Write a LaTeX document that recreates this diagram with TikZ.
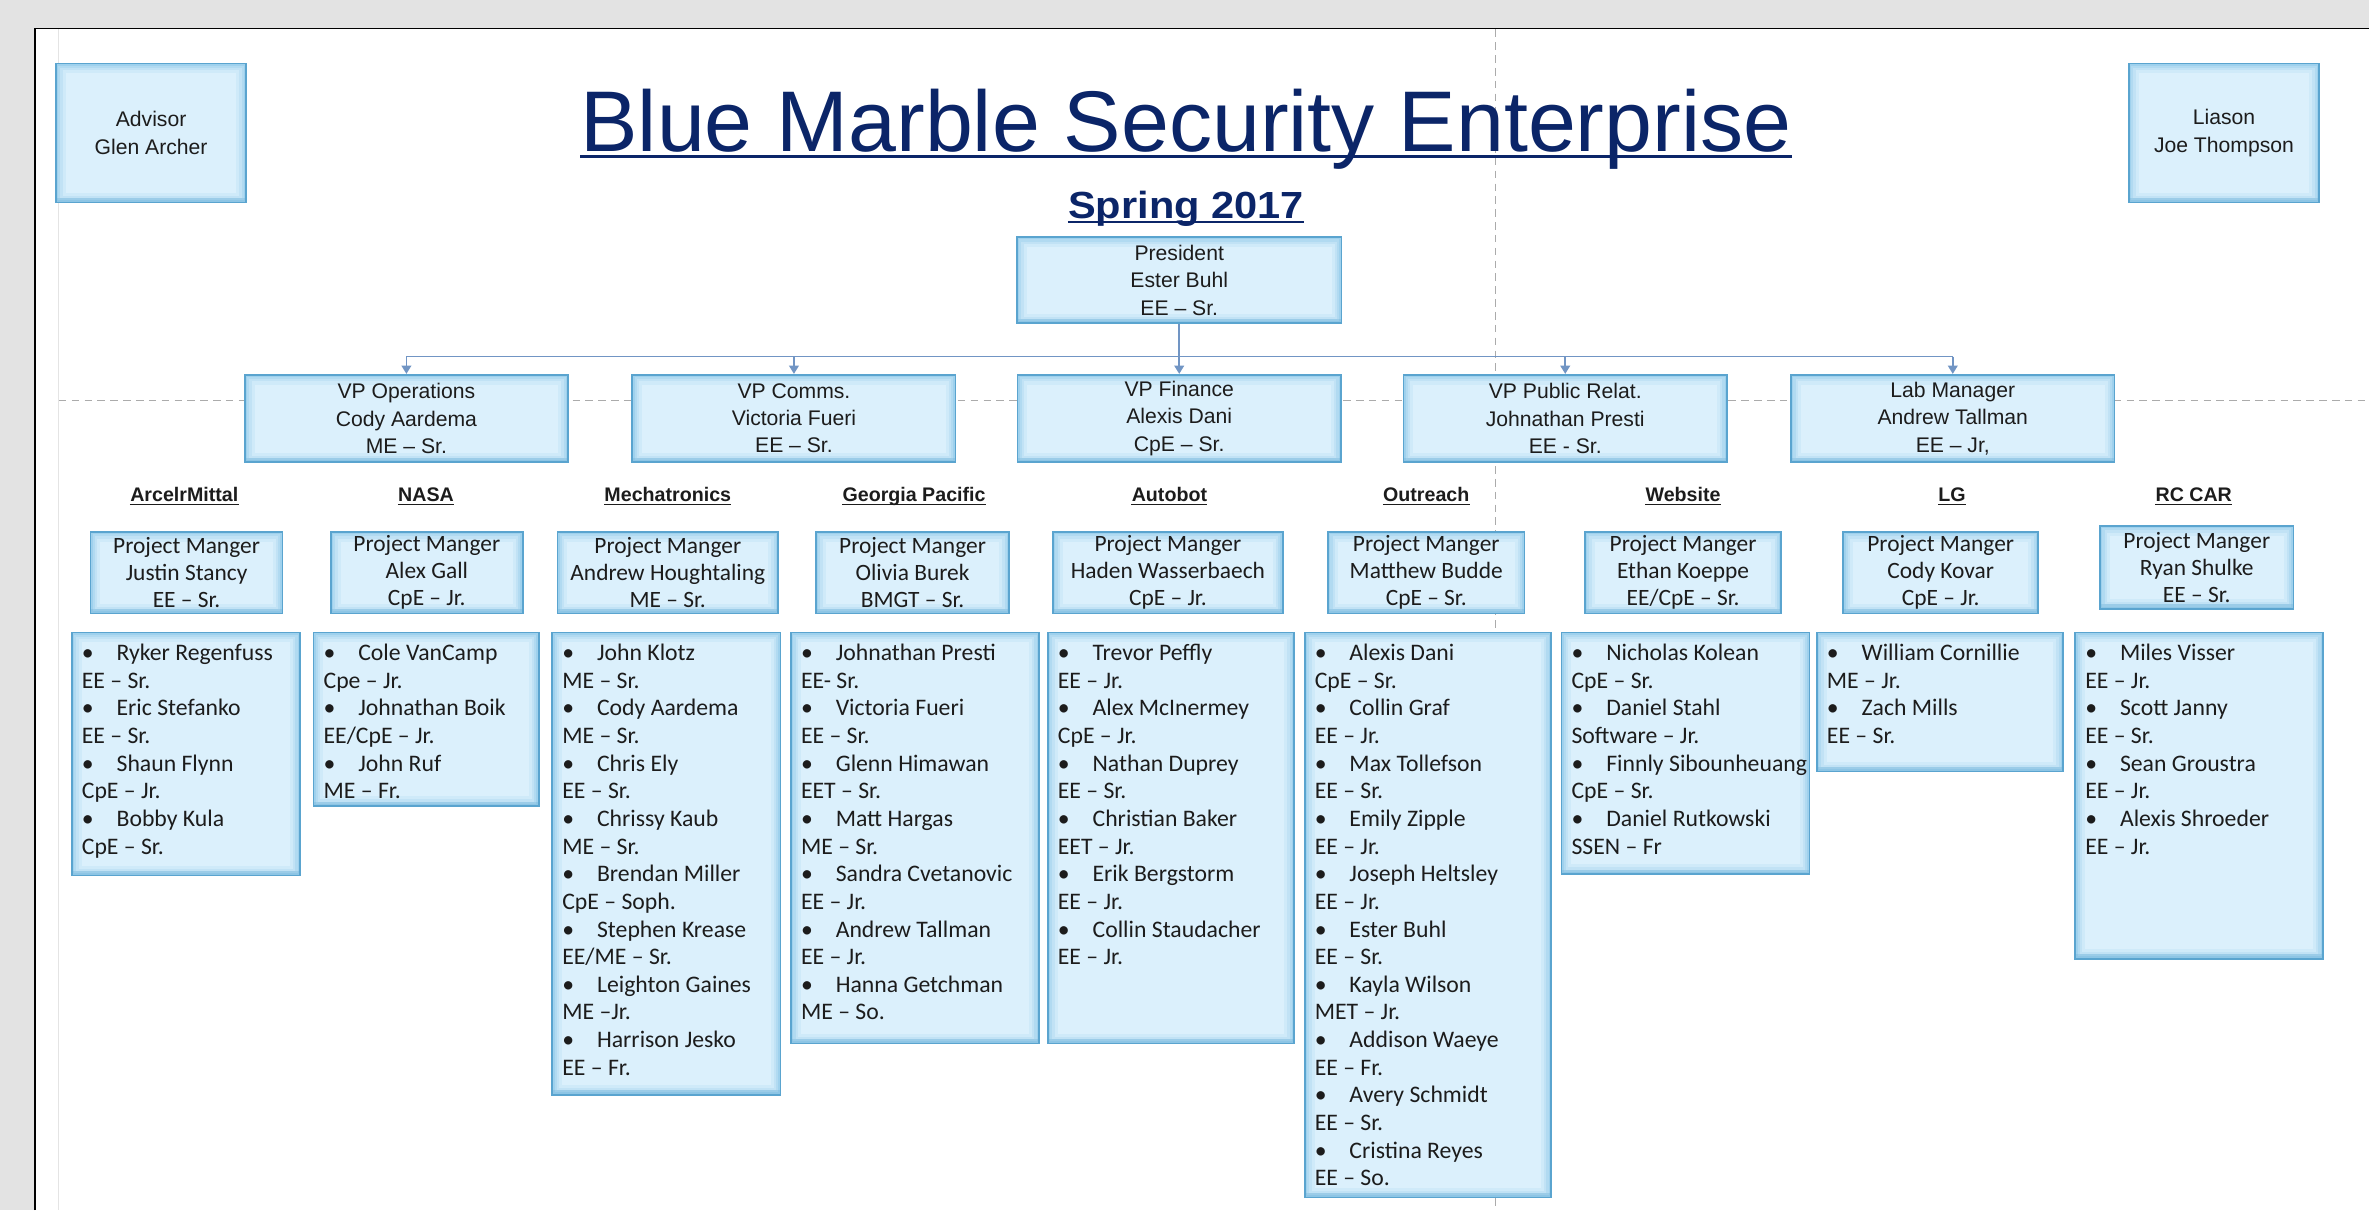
\documentclass[tikz,border=0pt]{standalone}
\usepackage{fontspec}
\setmainfont{Liberation Sans}
\newfontfamily\calfont{Carlito}
\usetikzlibrary{arrows.meta}

\definecolor{pagegrey}{HTML}{E3E3E3}
\definecolor{navy}{HTML}{0B2568}
\definecolor{boxfill}{HTML}{DBF0FC}
\definecolor{boxline}{HTML}{5AA4CF}
\definecolor{boxglow}{HTML}{6DB8E2}
\definecolor{connc}{HTML}{7195C4}
\definecolor{guide}{HTML}{ABABAB}
\definecolor{faintline}{HTML}{E4E4E4}
\definecolor{txt}{HTML}{1C1C1C}

\newcommand\mem[2]{\makebox[23pt][l]{\textbullet}#1\\#2}
\newcommand\strt{\rule{0pt}{12pt}}

\tikzset{
  bx/.style={fill=boxfill, draw=boxline, line width=1.1pt, inner sep=0pt,
    path picture={
      \draw[boxglow, line width=13pt, opacity=0.10]
        (path picture bounding box.south west) rectangle (path picture bounding box.north east);
      \draw[boxglow, line width=9pt, opacity=0.14]
        (path picture bounding box.south west) rectangle (path picture bounding box.north east);
      \draw[boxglow, line width=6pt, opacity=0.18]
        (path picture bounding box.south west) rectangle (path picture bounding box.north east);
      \draw[boxglow, line width=3pt, opacity=0.25]
        (path picture bounding box.south west) rectangle (path picture bounding box.north east);
      \fill[boxline, opacity=0.25]
        (path picture bounding box.south west) rectangle ([yshift=3pt]path picture bounding box.south east);
    }},
  topbox/.style={font=\fontsize{14}{18}\selectfont, align=center, text=txt},
  pm/.style={bx, font=\calfont\fontsize{15.5}{18}\selectfont, align=center, text=txt, minimum height=54pt},
  mb/.style={bx, anchor=north west},
  mtext/.style={anchor=north west, inner sep=0pt, align=left, text=txt,
    font=\calfont\fontsize{15.7}{18.3}\selectfont},
  vpbox/.style={bx, topbox, minimum width=214pt, minimum height=58pt},
  head/.style={anchor=base, inner sep=0pt, font=\bfseries\fontsize{13}{15}\selectfont, text=txt},
  conn/.style={draw=connc, line width=1pt},
  tip/.style={-{Triangle[width=6.5pt,length=5.5pt]}},
  guideline/.style={guide, line width=0.8pt, dash pattern=on 5pt off 3.5pt}
}

\begin{document}
\begin{tikzpicture}[x=1pt,y=-1pt]
\useasboundingbox (0,0) rectangle (1568,801);
% page
\fill[pagegrey] (0,0) rectangle (1568,801);
\fill[white] (23,19) rectangle (1568,801);
\draw[black, line width=1pt] (23,801) -- (23,19) -- (1568,19);
% guides
\draw[faintline, line width=0.8pt] (38.6,19.5) -- (38.6,801);
\draw[guideline] (39,265) -- (1568,265);
\draw[guideline] (990,19.5) -- (990,801);

% title
\node[anchor=base, inner sep=0pt, text=navy, font=\fontsize{57}{60}\selectfont] (ttl) at (785,100) {Blue Marble Security Enterprise};
\draw[navy, line width=1.9pt] ([yshift=-3.6pt]ttl.base west) -- ([yshift=-3.6pt]ttl.base east);
\node[anchor=base, inner sep=0pt, text=navy, font=\bfseries\fontsize{25}{28}\selectfont] (spr) at (785,144.5) {\scalebox{1.1}[1]{Spring 2017}};
\draw[navy, line width=1.3pt] ([yshift=-2.6pt]spr.base west) -- ([yshift=-2.6pt]spr.base east);

% top side boxes
\node[bx, topbox, minimum width=126pt, minimum height=92pt] (adv) at (100,88) {Advisor\\Glen Archer};
\node[bx, topbox, minimum width=126pt, minimum height=92pt] (lia) at (1472,88) {Liason\\Joe Thompson};

% president and VPs
\node[bx, topbox, minimum width=215pt, minimum height=57pt] (pres) at (780.5,185.5) {President\\Ester Buhl\\EE – Sr.};
\node[vpbox] (vops) at (269,277) {VP Operations\\Cody Aardema\\ME – Sr.};
\node[vpbox] (vcom) at (525.5,277) {VP Comms.\\Victoria Fueri\\EE – Sr.};
\node[vpbox] (vfin) at (780.5,277) {VP Finance\\Alexis Dani\\CpE – Sr.};
\node[vpbox] (vpub) at (1036,277) {VP Public Relat.\\Johnathan Presti\\EE - Sr.};
\node[vpbox] (lab) at (1292.5,277) {Lab Manager\\Andrew Tallman\\EE – Jr,};

% connectors
\coordinate (bus) at (780.5,236);
\draw[conn] (pres.south) -- (bus);
\draw[conn] (vops.north |- bus) -- (lab.north |- bus);
\foreach \v in {vops,vcom,vfin,vpub,lab}
  \draw[conn, tip, fill=connc] (\v.north |- bus) -- (\v.north);

% project headings
\node[head] (hArc) at (122,332) {ArcelrMittal};
\node[head] (hNasa) at (282,332) {NASA};
\node[head] (hMech) at (442,332) {Mechatronics};
\node[head] (hGp) at (605,332) {Georgia Pacific};
\node[head] (hAuto) at (774,332) {Autobot};
\node[head] (hOut) at (944,332) {Outreach};
\node[head] (hWeb) at (1114,332) {Website};
\node[head] (hLg) at (1292,332) {LG};
\node[head] (hRc) at (1452,332) {RC CAR};
\foreach \h in {hArc,hNasa,hMech,hGp,hAuto,hOut,hWeb,hLg,hRc}
  \draw[txt, line width=0.9pt] ([yshift=-2pt]\h.base west) -- ([yshift=-2pt]\h.base east);

% project managers
\node[pm, minimum width=127pt] (pArc) at (123.5,379) {Project Manger\\Justin Stancy\\EE – Sr.};
\node[pm, minimum width=127pt] (pNasa) at (282.5,379) {Project Manger\\Alex Gall\\CpE – Jr.};
\node[pm, minimum width=146pt] (pMech) at (442,379) {Project Manger\\Andrew Houghtaling\\ME – Sr.};
\node[pm, minimum width=128pt] (pGp) at (604,379) {Project Manger\\Olivia Burek\\BMGT – Sr.};
\node[pm, minimum width=152pt] (pAuto) at (773,379) {Project Manger\\Haden Wasserbaech\\CpE – Jr.};
\node[pm, minimum width=130pt] (pOut) at (944,379) {Project Manger\\Matthew Budde\\CpE – Sr.};
\node[pm, minimum width=130pt] (pWeb) at (1114,379) {Project Manger\\Ethan Koeppe\\EE/CpE – Sr.};
\node[pm, minimum width=129pt] (pLg) at (1284.5,379) {Project Manger\\Cody Kovar\\CpE – Jr.};
\node[pm, minimum width=128pt, minimum height=55pt] (pRc) at (1454,375.5) {Project Manger\\Ryan Shulke\\EE – Sr.};

% member boxes
\node[mb, minimum width=151pt, minimum height=161pt] (mArc) at (47,418) {};
\node[mb, minimum width=149pt, minimum height=115pt] (mNasa) at (207,418) {};
\node[mb, minimum width=151pt, minimum height=306pt] (mMech) at (365,418) {};
\node[mb, minimum width=164pt, minimum height=272pt] (mGp) at (523,418) {};
\node[mb, minimum width=163pt, minimum height=272pt] (mAuto) at (693,418) {};
\node[mb, minimum width=163pt, minimum height=374pt] (mOut) at (863,418) {};
\node[mb, minimum width=164pt, minimum height=160pt] (mWeb) at (1033,418) {};
\node[mb, minimum width=163pt, minimum height=92pt] (mLg) at (1202,418) {};
\node[mb, minimum width=164pt, minimum height=216pt] (mRc) at (1373,418) {};

\node[mtext] (tArc) at ([xshift=7pt,yshift=-7pt]mArc.north west)
  {\strt\mem{Ryker Regenfuss}{EE – Sr.}\\\mem{Eric Stefanko}{EE – Sr.}\\\mem{Shaun Flynn}{CpE – Jr.}\\\mem{Bobby Kula}{CpE – Sr.}};
\node[mtext] (tNasa) at ([xshift=7pt,yshift=-7pt]mNasa.north west)
  {\strt\mem{Cole VanCamp}{Cpe – Jr.}\\\mem{Johnathan Boik}{EE/CpE – Jr.}\\\mem{John Ruf}{ME – Fr.}};
\node[mtext] (tMech) at ([xshift=7pt,yshift=-7pt]mMech.north west)
  {\strt\mem{John Klotz}{ME – Sr.}\\\mem{Cody Aardema}{ME – Sr.}\\\mem{Chris Ely}{EE – Sr.}\\\mem{Chrissy Kaub}{ME – Sr.}\\\mem{Brendan Miller}{CpE – Soph.}\\\mem{Stephen Krease}{EE/ME – Sr.}\\\mem{Leighton Gaines}{ME –Jr.}\\\mem{Harrison Jesko}{EE – Fr.}};
\node[mtext] (tGp) at ([xshift=7pt,yshift=-7pt]mGp.north west)
  {\strt\mem{Johnathan Presti}{EE- Sr.}\\\mem{Victoria Fueri}{EE – Sr.}\\\mem{Glenn Himawan}{EET – Sr.}\\\mem{Matt Hargas}{ME – Sr.}\\\mem{Sandra Cvetanovic}{EE – Jr.}\\\mem{Andrew Tallman}{EE – Jr.}\\\mem{Hanna Getchman}{ME – So.}};
\node[mtext] (tAuto) at ([xshift=7pt,yshift=-7pt]mAuto.north west)
  {\strt\mem{Trevor Peffly}{EE – Jr.}\\\mem{Alex McInermey}{CpE – Jr.}\\\mem{Nathan Duprey}{EE – Sr.}\\\mem{Christian Baker}{EET – Jr.}\\\mem{Erik Bergstorm}{EE – Jr.}\\\mem{Collin Staudacher}{EE – Jr.}};
\node[mtext] (tOut) at ([xshift=7pt,yshift=-7pt]mOut.north west)
  {\strt\mem{Alexis Dani}{CpE – Sr.}\\\mem{Collin Graf}{EE – Jr.}\\\mem{Max Tollefson}{EE – Sr.}\\\mem{Emily Zipple}{EE – Jr.}\\\mem{Joseph Heltsley}{EE – Jr.}\\\mem{Ester Buhl}{EE – Sr.}\\\mem{Kayla Wilson}{MET – Jr.}\\\mem{Addison Waeye}{EE – Fr.}\\\mem{Avery Schmidt}{EE – Sr.}\\\mem{Cristina Reyes}{EE – So.}};
\node[mtext] (tWeb) at ([xshift=7pt,yshift=-7pt]mWeb.north west)
  {\strt\mem{Nicholas Kolean}{CpE – Sr.}\\\mem{Daniel Stahl}{Software – Jr.}\\\mem{Finnly Sibounheuang}{CpE – Sr.}\\\mem{Daniel Rutkowski}{SSEN – Fr}};
\node[mtext] (tLg) at ([xshift=7pt,yshift=-7pt]mLg.north west)
  {\strt\mem{William Cornillie}{ME – Jr.}\\\mem{Zach Mills}{EE – Sr.}};
\node[mtext] (tRc) at ([xshift=7pt,yshift=-7pt]mRc.north west)
  {\strt\mem{Miles Visser}{EE – Jr.}\\\mem{Scott Janny}{EE – Sr.}\\\mem{Sean Groustra}{EE – Jr.}\\\mem{Alexis Shroeder}{EE – Jr.}};
\end{tikzpicture}
\end{document}
